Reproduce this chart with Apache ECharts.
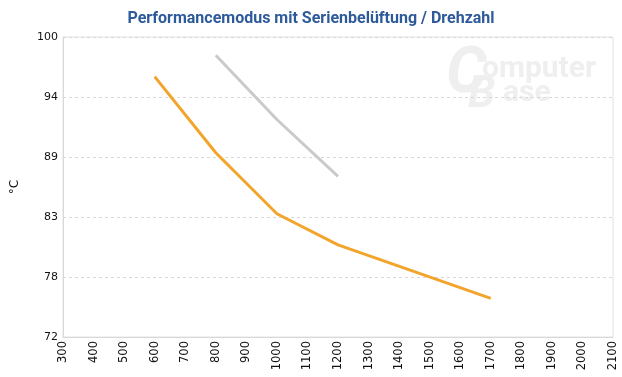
<!DOCTYPE html>
<html>
<head>
<meta charset="utf-8">
<script src="https://cdn.jsdelivr.net/npm/echarts@6/dist/echarts.min.js"></script>
<style>
  html, body { margin: 0; padding: 0; background: #fff; }
  #chart { width: 622px; height: 377px; }
</style>
</head>
<body>
<div id="chart"></div>
<script>
const rpm = [300, 400, 500, 600, 700, 800, 900, 1000, 1100, 1200, 1300, 1400, 1500, 1600, 1700, 1800, 1900, 2000, 2100];
const orangeRpm = [600, 800, 1000, 1200, 1700];
const orangeTemp = [96.3, 89.2, 83.5, 80.6, 75.6];
const grayRpm = [800, 1000, 1200];
const grayTemp = [98.3, 92.3, 87.0];

// y axis runs 72..100 in five equal steps; values are offset from the base
const yBase = 72;
const yTop = 100;
const yStep = (yTop - yBase) / 5;

const toPairs = (xs, ys) => xs.map((x, i) => [x, ys[i] - yBase]);

const chart = echarts.init(document.getElementById("chart"));

const option = {
    backgroundColor: "#ffffff",
    animation: false,
    title: {
        text: "Performancemodus mit Serienbelüftung / Drehzahl",
        left: "center",
        top: 6,
        textStyle: {
            color: "#2d5a9b",
            fontFamily: "Roboto",
            fontWeight: "bold",
            fontSize: 16,
        },
    },
    graphic: [
        { type: "text", left: 446, top: 44, z: 0, style: { text: "C", fill: "#efefef", font: "italic bold 64px Roboto" } },
        { type: "text", left: 482, top: 54, z: 0, style: { text: "omputer", fill: "#efefef", font: "bold 30px Roboto" } },
        { type: "text", left: 468, top: 74, z: 0, style: { text: "B", fill: "#efefef", font: "italic bold 44px Roboto" } },
        { type: "text", left: 503, top: 78, z: 0, style: { text: "ase", fill: "#efefef", font: "bold 30px Roboto" } },
    ],
    grid: {
        left: 63,
        right: 9,
        top: 37,
        bottom: 40,
        show: true,
        borderColor: "#e2e2e2",
        borderWidth: 1,
    },
    xAxis: {
        type: "value",
        min: rpm[0],
        max: rpm[rpm.length - 1],
        interval: 100,
        axisLine: { show: true, lineStyle: { color: "#d8d8d8" } },
        axisTick: { show: false },
        splitLine: { show: false },
        axisLabel: {
            rotate: 90,
            margin: 4,
            color: "#111",
            fontFamily: "DejaVu Sans",
            fontSize: 11.5,
            formatter: (v) => String(v),
        },
    },
    yAxis: {
        type: "value",
        min: 0,
        max: yTop - yBase,
        interval: yStep,
        name: "°C",
        nameLocation: "middle",
        nameGap: 42,
        nameTextStyle: { color: "#111", fontFamily: "DejaVu Sans", fontSize: 12 },
        axisLine: { show: true, lineStyle: { color: "#d8d8d8" } },
        axisTick: { show: false },
        splitLine: { show: true, lineStyle: { color: "#d8d8d8", type: [3, 3] } },
        axisLabel: {
            margin: 5,
            color: "#111",
            fontFamily: "DejaVu Sans",
            fontSize: 11,
            formatter: (v) => Math.round(v + yBase).toString(),
        },
    },
    series: [
        {
            type: "line",
            data: toPairs(grayRpm, grayTemp),
            symbol: "none",
            lineStyle: { color: "#cacaca", width: 3 },
            z: 3,
        },
        {
            type: "line",
            data: toPairs(orangeRpm, orangeTemp),
            symbol: "none",
            lineStyle: { color: "#f2a42b", width: 3 },
            z: 4,
        },
    ],
};

chart.setOption(option);
</script>
</body>
</html>
